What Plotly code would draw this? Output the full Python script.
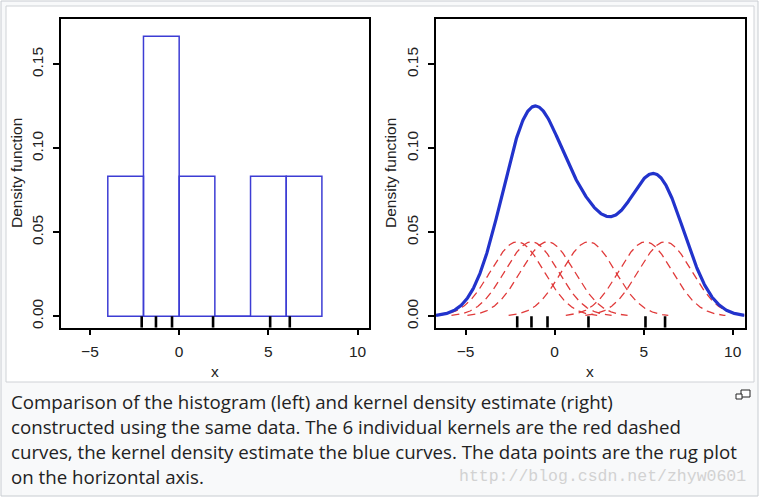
import numpy as np
import plotly.graph_objects as go

# ---- data ----
data_points = [-2.1, -1.3, -0.4, 1.9, 5.1, 6.2]
bin_centers = [-3, -1, 1, 3, 5, 7]
bin_density = [0.0833, 0.1667, 0.0833, 0.0, 0.0833, 0.0833]
bandwidth = 1.5
x_ticks = [-5, 0, 5, 10]
y_ticks = [0.0, 0.05, 0.10, 0.15]
caption_lines = [
    "Comparison of the histogram (left) and kernel density estimate (right)",
    "constructed using the same data. The 6 individual kernels are the red dashed",
    "curves, the kernel density estimate the blue curves. The data points are the rug plot",
    "on the horizontal axis.",
]
watermark = "http://blog.csdn.net/zhyw0601"

W, H = 761, 498
def px(x): return x / W
def py(y): return 1 - y / H

XR_L = [-6.64, 10.64]
XR_R = [-6.66, 10.66]
YR = [-0.0068, 0.1768]
rug_h = 0.0068

fig = go.Figure()

# histogram
fig.add_trace(go.Bar(x=bin_centers, y=bin_density, width=2,
                     marker=dict(color="rgba(0,0,0,0)", line=dict(color="#3c3cd4", width=1.5)),
                     xaxis="x", yaxis="y", showlegend=False))
# zero-height bins drawn as baseline segments
for c, d in zip(bin_centers, bin_density):
    if d == 0:
        fig.add_trace(go.Scatter(x=[c - 1, c + 1], y=[0, 0], mode="lines",
                                 line=dict(color="#3c3cd4", width=1.5),
                                 xaxis="x", yaxis="y", showlegend=False))

def rug(xa, ya):
    xs, ys = [], []
    for p in data_points:
        xs += [p, p, None]
        ys += [YR[0], YR[0] + rug_h, None]
    fig.add_trace(go.Scatter(x=xs, y=ys, mode="lines", line=dict(color="black", width=2.6),
                             xaxis=xa, yaxis=ya, showlegend=False))

rug("x", "y")

# KDE
grid = np.linspace(XR_R[0], XR_R[1], 600)
n = len(data_points)
kernels = []
for p in data_points:
    k = np.exp(-0.5 * ((grid - p) / bandwidth) ** 2) / (n * bandwidth * np.sqrt(2 * np.pi))
    kernels.append(k)
for p, k in zip(data_points, kernels):
    mask = np.abs(grid - p) <= 3 * bandwidth
    fig.add_trace(go.Scatter(x=grid[mask], y=k[mask], mode="lines",
                             line=dict(color="#e03a3a", width=1.3, dash="8px,5px"),
                             xaxis="x2", yaxis="y2", showlegend=False))
fig.add_trace(go.Scatter(x=grid, y=np.sum(kernels, axis=0), mode="lines",
                         line=dict(color="#2233cc", width=3.2),
                         xaxis="x2", yaxis="y2", showlegend=False))
rug("x2", "y2")

tickfont = dict(family="Liberation Sans, Arial", size=15.5, color="#222")
common_x = dict(tickmode="array", tickvals=x_ticks, ticks="outside", ticklen=6, tickwidth=1.5,
                tickcolor="black", showline=True, mirror=True, linecolor="black", linewidth=1.5,
                showgrid=False, zeroline=False, tickfont=tickfont, ticklabelstandoff=3)
common_y = dict(tickmode="array", tickvals=y_ticks, tickformat=".2f", ticks="outside", ticklen=6,
                tickwidth=1.5, tickcolor="black", showline=True, mirror=True, linecolor="black",
                linewidth=1.5, showgrid=False, zeroline=False, tickfont=tickfont, tickangle=-90,
                range=YR, ticklabelstandoff=4)

ydom = [py(327.7), py(19.3)]
fig.update_layout(
    width=W, height=H, margin=dict(l=0, r=0, t=0, b=0),
    paper_bgcolor="white", plot_bgcolor="white", hovermode=False, showlegend=False,
    xaxis=dict(domain=[px(60.7), px(369)], range=XR_L, anchor="y", **common_x),
    yaxis=dict(domain=ydom, anchor="x", **common_y),
    xaxis2=dict(domain=[px(436), px(744.5)], range=XR_R, anchor="y2", **common_x),
    yaxis2=dict(domain=ydom, anchor="x2", **common_y),
)

shapes = [
    dict(type="rect", xref="paper", yref="paper", x0=px(1), x1=px(758), y0=py(496), y1=py(1),
         fillcolor="#f8f9fa", line=dict(color="#c8ccd1", width=1), layer="below"),
    dict(type="rect", xref="paper", yref="paper", x0=px(6), x1=px(754), y0=py(382), y1=py(6),
         fillcolor="white", line=dict(color="#cfd2d6", width=1), layer="below"),
    dict(type="rect", xref="paper", yref="paper", x0=px(741), x1=px(750), y0=py(397), y1=py(390),
         fillcolor="white", line=dict(color="#222", width=1), layer="above"),
    dict(type="rect", xref="paper", yref="paper", x0=px(736), x1=px(742), y0=py(399), y1=py(394),
         fillcolor="white", line=dict(color="#222", width=1), layer="above"),
]
fig.update_layout(shapes=shapes)

ann = []
titlefont = dict(family="Liberation Sans, Arial", size=15.5, color="#222")
for cx, cy in [(px(16.5), py(173.5)), (px(390.5), py(173.5))]:
    ann.append(dict(text="Density function", x=cx, y=cy, xref="paper", yref="paper",
                    showarrow=False, textangle=-90, font=titlefont, xanchor="center", yanchor="middle"))
for cx in [px(214.8), px(590)]:
    ann.append(dict(text="x", x=cx, y=py(371), xref="paper", yref="paper", showarrow=False,
                    font=titlefont, xanchor="center", yanchor="middle"))
cap_y = [401, 426, 451, 476]
for t, yy in zip(caption_lines, cap_y):
    ann.append(dict(text=t, x=px(9), y=py(yy), xref="paper", yref="paper", showarrow=False,
                    xanchor="left", yanchor="middle",
                    font=dict(family="Open Sans, Noto Sans", size=18.7, color="#222")))
ann.append(dict(text=watermark, x=px(748), y=py(476), xref="paper", yref="paper", showarrow=False,
                xanchor="right", yanchor="middle",
                font=dict(family="Liberation Mono, DejaVu Sans Mono", size=16.5, color="#d2d2d2")))
fig.update_layout(annotations=ann)

fig.write_html("out.html", config={"displayModeBar": False})
